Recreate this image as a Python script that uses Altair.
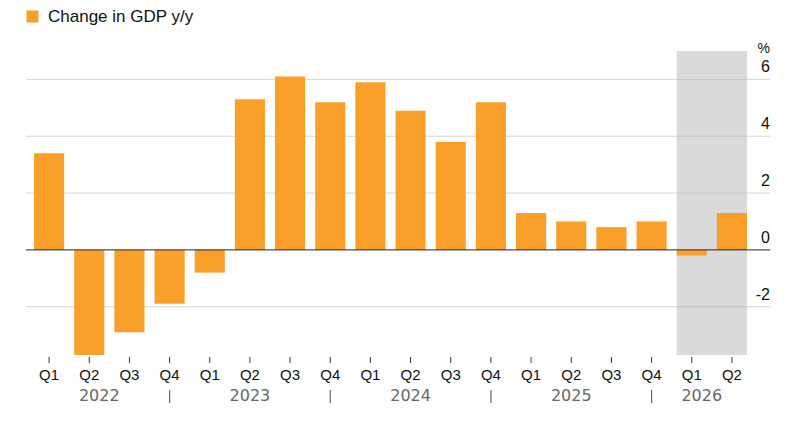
import altair as alt
import pandas as pd

# ---- data ----
years = [2022, 2023, 2024, 2025, 2026]
quarter_names = ["Q1", "Q2", "Q3", "Q4"]
quarters = [f"{y}-{q}" for y in years for q in quarter_names][:18]  # through 2026 Q2
gdp_change = [3.4, -3.7, -2.9, -1.9, -0.8, 5.3, 6.1, 5.2, 5.9, 4.9, 3.8, 5.2,
              1.3, 1.0, 0.8, 1.0, -0.2, 1.3]
series_name = "Change in GDP y/y"
shade_start = "2026-Q1"
shade_end = "2026-Q2"
grid_values = [-2, 2, 4, 6]
y_ticks = [-2, 0, 2, 4, 6]
y_unit = "%"
y_domain = [-3.7, 7]
# quarter under which each year label sits (full years centred, partial years offset)
year_full = ["2023", "2024", "2025"]
year_full_anchor = ["2023-Q2", "2024-Q2", "2025-Q2"]
year_part = ["2022", "2026"]
year_part_anchor = ["2022-Q2", "2026-Q1"]

ORANGE = "#FA9F2A"
W, H = 723, 304
FONT = "Liberation Sans"

bars_df = pd.DataFrame({"q": quarters, "v": gdp_change, "s": series_name,
                        "ql": [q.split("-")[1] for q in quarters]})
shade_df = pd.DataFrame({"start": [shade_start], "end": [shade_end]})
grid_df = pd.DataFrame({"g": grid_values})
ytick_df = pd.DataFrame({"t": y_ticks, "label": [str(t) for t in y_ticks]})
q4_df = pd.DataFrame({"q": [q for q in quarters if q.endswith("Q4")]})
yf_df = pd.DataFrame({"year": year_full, "q": year_full_anchor})
yp_df = pd.DataFrame({"year": year_part, "q": year_part_anchor})

xscale = alt.Scale(domain=quarters, paddingInner=0.25, paddingOuter=0.125)
yscale = alt.Scale(domain=y_domain, nice=False, zero=False)

shade = alt.Chart(shade_df).mark_rect(color="#dadada").encode(
    x=alt.X("start:N", scale=xscale, bandPosition=0, axis=None),
    x2=alt.X2("end", bandPosition=1),
    y=alt.value(0),
    y2=alt.value(H),
)

grid = alt.Chart(grid_df).mark_rule(color="#bbbbbb", opacity=0.6, strokeWidth=1).encode(
    y=alt.Y("g:Q", scale=yscale, axis=None),
    x=alt.value(-3),
    x2=alt.value(W + 18),
)

bars = alt.Chart(bars_df).mark_bar().encode(
    x=alt.X("q:N", scale=xscale, sort=quarters, axis=None),
    y=alt.Y("v:Q", scale=yscale, axis=None),
    color=alt.Color("s:N", scale=alt.Scale(range=[ORANGE]),
                    legend=alt.Legend(orient="none", legendX=-5, legendY=-43,
                                      title=None, symbolType="square",
                                      symbolSize=144, symbolStrokeWidth=0,
                                      labelFontSize=17, labelColor="#111111",
                                      labelOffset=7, padding=0, labelFont=FONT,
                                      labelLimit=400)),
)

zero = alt.Chart(pd.DataFrame({"z": [0]})).mark_rule(color="#222222", strokeWidth=1).encode(
    y=alt.Y("z:Q", scale=yscale, axis=None),
    x=alt.value(-3),
    x2=alt.value(W + 18),
)

# x "axis": ticks and quarter labels
xticks = alt.Chart(bars_df).mark_rule(color="#333333", strokeWidth=1).encode(
    x=alt.X("q:N", scale=xscale, axis=None),
    y=alt.value(H + 2),
    y2=alt.value(H + 8),
)
xlabels = alt.Chart(bars_df).mark_text(font=FONT, fontSize=15, color="#111111",
                                       baseline="middle", align="center").encode(
    x=alt.X("q:N", scale=xscale, axis=None),
    y=alt.value(H + 20),
    text="ql:N",
)

# y "axis": labels above gridlines at the right end, plus unit
ylabels = alt.Chart(ytick_df).mark_text(font=FONT, fontSize=16, color="#111111",
                                        baseline="alphabetic", align="right", dy=-7).encode(
    y=alt.Y("t:Q", scale=yscale, axis=None),
    x=alt.value(W + 18),
    text="label:N",
)
yunit = alt.Chart(pd.DataFrame({"u": [y_unit]})).mark_text(
    font=FONT, fontSize=14, color="#111111", baseline="alphabetic", align="right"
).encode(
    x=alt.value(W + 18),
    y=alt.value(2),
    text="u:N",
)

seps = alt.Chart(q4_df).mark_rule(color="#666666", strokeWidth=1.2).encode(
    x=alt.X("q:N", scale=xscale, axis=None),
    y=alt.value(339),
    y2=alt.value(352),
)

year_style = dict(font="DejaVu Sans", fontSize=16, color="#666666",
                  baseline="middle", align="center")
years_full = alt.Chart(yf_df).mark_text(**year_style).encode(
    x=alt.X("q:N", scale=xscale, axis=None),
    y=alt.value(345),
    text="year:N",
)
years_part = alt.Chart(yp_df).mark_text(dx=10, **year_style).encode(
    x=alt.X("q:N", scale=xscale, axis=None),
    y=alt.value(345),
    text="year:N",
)

chart = alt.layer(shade, grid, bars, zero, xticks, xlabels, ylabels, yunit,
                  seps, years_full, years_part).properties(
    width=W, height=H,
    padding={"left": 21, "top": 43, "right": 36, "bottom": 60},
    autosize=alt.AutoSizeParams(type="none"),
).configure(font=FONT).configure_view(strokeWidth=0)

chart.save("out.html", embed_options={"renderer": "svg", "actions": False})
